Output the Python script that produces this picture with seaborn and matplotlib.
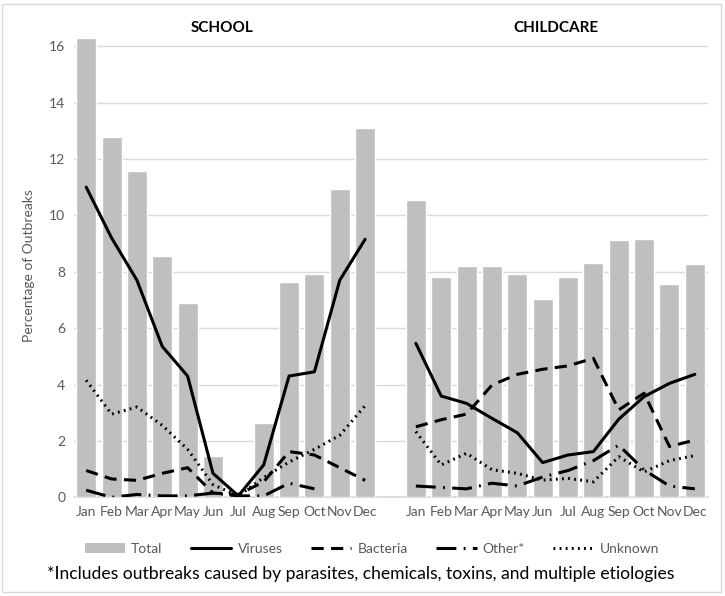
import numpy as np
import pandas as pd
import seaborn as sns
import matplotlib
matplotlib.use("Agg")
import matplotlib.pyplot as plt
from matplotlib.lines import Line2D
from matplotlib.patches import Patch, Rectangle

months = ["Jan", "Feb", "Mar", "Apr", "May", "Jun", "Jul", "Aug", "Sep", "Oct", "Nov", "Dec"]
panels = ["SCHOOL", "CHILDCARE"]

school_total = [16.3, 12.77, 11.58, 8.57, 6.9, 1.45, 0.1, 2.65, 7.62, 7.92, 10.95, 13.08]
school_viruses = [11.0, 9.2, 7.7, 5.35, 4.3, 0.85, 0.05, 1.15, 4.3, 4.45, 7.7, 9.15]
school_bacteria = [0.95, 0.65, 0.6, 0.85, 1.05, 0.15, 0.1, 0.55, 1.62, 1.5, 1.05, 0.6]
school_other = [0.25, 0.0, 0.1, 0.05, 0.05, 0.15, 0.05, 0.05, 0.5, 0.3, np.nan, np.nan]
school_unknown = [4.15, 2.95, 3.2, 2.55, 1.7, 0.45, 0.05, 0.7, 1.25, 1.7, 2.2, 3.25]

childcare_total = [10.55, 7.8, 8.21, 8.21, 7.91, 7.03, 7.8, 8.31, 9.12, 9.17, 7.55, 8.26]
childcare_viruses = [5.46, 3.59, 3.33, 2.8, 2.29, 1.23, 1.5, 1.62, 2.77, 3.57, 4.04, 4.36]
childcare_bacteria = [2.5, 2.75, 2.95, 3.98, 4.36, 4.54, 4.66, 4.93, 3.1, 3.69, 1.8, 2.03]
childcare_other = [0.4, 0.35, 0.3, 0.5, 0.4, 0.72, 0.95, 1.3, 1.85, 0.97, 0.4, 0.3]
childcare_unknown = [2.33, 1.15, 1.56, 0.98, 0.85, 0.61, 0.67, 0.55, 1.44, 0.9, 1.3, 1.48]

series_names = ["Viruses", "Bacteria", "Other*", "Unknown"]
legend_labels = ["Total", "Viruses", "Bacteria", "Other*", "Unknown"]
footnote = "*Includes outbreaks caused by parasites, chemicals, toxins, and multiple etiologies"

sns.set_theme(style="white")
plt.rcParams["font.family"] = ["Lato", "DejaVu Sans"]

TEXT = "#595959"
GRID = "#d9d9d9"
BAR = "#bfbfbf"

fig = plt.figure(figsize=(7.25, 5.96), dpi=100)
ax = fig.add_axes([73.5 / 725, (596 - 497.3) / 596, 634 / 725, 16.4 * 28.2 / 596])

# positions: school 0..11, gap, childcare 13..24
pos_s = np.arange(12)
pos_c = np.arange(12) + 13

bars = pd.DataFrame({
    "pos": np.concatenate([pos_s, pos_c]),
    "value": school_total + childcare_total,
})
sns.barplot(data=bars, x="pos", y="value", native_scale=True, color=BAR,
            saturation=1, width=0.79, ax=ax, zorder=2)

lw = 2.2
styles = {
    "Viruses": dict(linestyle="-"),
    "Bacteria": dict(linestyle=(0, (4, 2.4))),
    "Other*": dict(linestyle=(0, (6.5, 2.4, 0.6, 2.4))),
    "Unknown": dict(linestyle=(0, (0.6, 1.4))),
}
data_s = [school_viruses, school_bacteria, school_other, school_unknown]
data_c = [childcare_viruses, childcare_bacteria, childcare_other, childcare_unknown]
for name, vs, vc in zip(series_names, data_s, data_c):
    for pos, vals in ((pos_s, vs), (pos_c, vc)):
        df = pd.DataFrame({"pos": pos, "value": vals}).dropna()
        sns.lineplot(data=df, x="pos", y="value", ax=ax, color="black", lw=lw,
                     zorder=3, **styles[name])

ax.set_xlim(-0.5, 24.5)
ax.set_ylim(0, 16.4)
ax.set_yticks(np.arange(0, 17, 2))
ax.set_xticks(np.concatenate([pos_s, pos_c]))
ax.set_xticklabels(months + months)
ax.tick_params(axis="both", colors=TEXT, labelsize=10, length=0, pad=6)
ax.set_xlabel("")
ax.set_ylabel("Percentage of Outbreaks", color=TEXT, fontsize=10, labelpad=10)
ax.grid(axis="y", color=GRID, lw=1, zorder=0)
ax.set_axisbelow(True)
for s in ["left", "right", "top"]:
    ax.spines[s].set_visible(False)
ax.spines["bottom"].set_color(GRID)
ax.spines["bottom"].set_zorder(1)

fig.text(222 / 725, 1 - 28 / 596, panels[0], ha="center", va="center",
         fontsize=11, fontweight="bold", color="black")
fig.text(556 / 725, 1 - 28 / 596, panels[1], ha="center", va="center",
         fontsize=11, fontweight="bold", color="black")

handles = [Patch(facecolor=BAR, edgecolor="none")]
for name in series_names:
    handles.append(Line2D([0], [0], color="black", lw=lw, **styles[name]))
fig.legend(handles, legend_labels, loc="center", bbox_to_anchor=(372 / 725, 1 - 549 / 596),
           ncol=5, frameon=False, fontsize=10, handlelength=2.9, columnspacing=2.05,
           handletextpad=0.45, labelcolor=TEXT, borderpad=0, borderaxespad=0)

fig.text(47 / 725, 1 - 573.5 / 596, footnote, ha="left", va="center",
         fontsize=12.6, color="black")

fig.patches.append(Rectangle((2 / 725, 4 / 596), 719 / 725, 588 / 596, fill=False,
                             edgecolor=GRID, lw=1, transform=fig.transFigure, figure=fig))

fig.savefig("out.png", dpi=100, facecolor="white")
